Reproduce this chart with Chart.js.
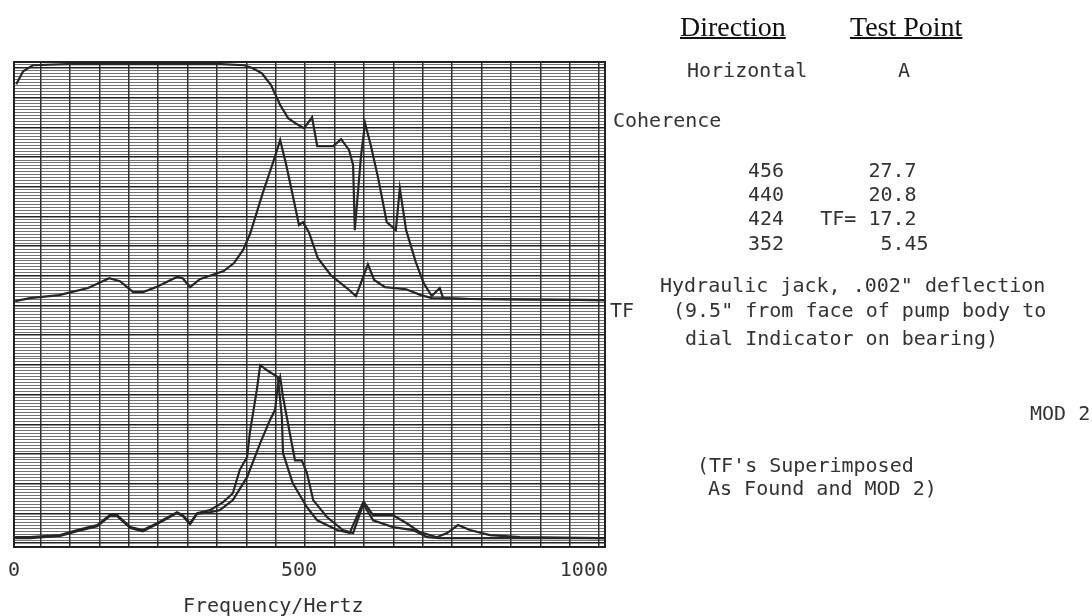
<!DOCTYPE html>
<html>
<head>
<meta charset="utf-8">
<script src="https://cdn.jsdelivr.net/npm/chart.js@4.4.1/dist/chart.umd.min.js"></script>
<style>
  html, body { margin: 0; padding: 0; background: #fff; }
  #wrap { position: relative; width: 1092px; height: 616px; overflow: hidden; }
  #wrap canvas { position: absolute; left: 0; top: 0; }
  .t { position: absolute; white-space: pre; font-family: 'DejaVu Sans Mono', monospace; font-size: 20px; line-height: 20px; color: #333; }
  .h { position: absolute; white-space: pre; font-family: 'Liberation Serif', 'Times New Roman', serif; font-size: 28px; line-height: 28px; color: #111; text-decoration: underline; text-decoration-thickness: 1.5px; }
</style>
</head>
<body>
<div id="wrap">
  <canvas id="plot" width="1092" height="616"></canvas>
</div>
<script>
// frequency (Hz) and trace height (chart divisions, no printed scale)
const cohHz  = [4, 16, 33, 93, 239, 363, 404, 419, 435, 451, 467, 481, 496, 509, 523, 532, 560, 574, 588, 595, 598, 609, 616, 626, 639, 654, 670, 677, 688, 705, 719, 733, 747, 753, 800, 1037];
const cohVal = [15.45, 15.89, 16.09, 16.13, 16.13, 16.13, 16.09, 15.99, 15.82, 15.42, 14.75, 14.31, 14.11, 13.97, 14.34, 13.37, 13.37, 13.6, 13.23, 12.73, 10.54, 13.06, 14.14, 13.4, 12.29, 10.81, 10.54, 11.95, 10.54, 9.46, 8.75, 8.32, 8.59, 8.25, 8.22, 8.18];

const tfHz  = [2, 28, 79, 130, 167, 186, 209, 226, 249, 286, 296, 309, 326, 346, 368, 386, 402, 414, 437, 456, 467, 477, 489, 500, 507, 518, 533, 556, 584, 600, 621, 632, 651, 688, 714, 733, 800, 1037];
const tfVal = [8.15, 8.25, 8.35, 8.59, 8.92, 8.82, 8.45, 8.45, 8.62, 8.96, 8.92, 8.62, 8.89, 9.02, 9.16, 9.43, 9.87, 10.4, 11.82, 12.9, 13.57, 12.79, 11.72, 10.71, 10.81, 10.44, 9.6, 9.02, 8.59, 8.32, 9.39, 8.86, 8.62, 8.55, 8.35, 8.25, 8.22, 8.18];

const foundHz  = [2, 28, 81, 111, 146, 168, 181, 204, 226, 251, 286, 296, 309, 321, 344, 361, 384, 409, 432, 449, 458, 463, 467, 472, 484, 493, 505, 514, 525, 549, 577, 595, 614, 630, 665, 689, 712, 742, 760, 779, 800, 835, 888, 1037];
const foundVal = [0.17, 0.17, 0.24, 0.4, 0.57, 0.91, 0.91, 0.51, 0.4, 0.64, 1.01, 0.91, 0.64, 0.98, 1.04, 1.11, 1.45, 2.22, 3.37, 4.14, 4.48, 5.32, 5.59, 4.92, 3.7, 2.79, 2.79, 2.36, 1.45, 0.88, 0.44, 0.34, 1.38, 0.94, 0.94, 0.67, 0.37, 0.2, 0.34, 0.61, 0.44, 0.27, 0.2, 0.17];

const mod2Hz  = [2, 28, 81, 111, 146, 168, 181, 204, 226, 251, 286, 296, 309, 321, 344, 367, 384, 396, 409, 414, 426, 432, 444, 463, 470, 472, 489, 514, 532, 567, 589, 612, 630, 665, 700, 725, 747, 853, 1037];
const mod2Val = [0.2, 0.2, 0.27, 0.44, 0.61, 0.94, 0.94, 0.54, 0.44, 0.67, 1.04, 0.94, 0.67, 1.01, 1.11, 1.38, 1.68, 2.46, 2.9, 3.74, 5.15, 5.99, 5.82, 5.59, 4.24, 3.03, 2.02, 1.21, 0.77, 0.44, 0.34, 1.35, 0.77, 0.54, 0.44, 0.2, 0.17, 0.17, 0.17];

const xTickLabels = [0, 500, 1000];

const notes = [
  ['h', 'Direction', 680, 36],
  ['h', 'Test Point', 850, 36],
  ['t', 'Horizontal', 687, 77],
  ['t', 'A', 898, 77],
  ['t', 'Coherence', 613, 127],
  ['t', '456       27.7', 748, 177],
  ['t', '440       20.8', 748, 201],
  ['t', '424   TF= 17.2', 748, 225],
  ['t', '352        5.45', 748, 250],
  ['t', 'Hydraulic jack, .002" deflection', 660, 292],
  ['t', 'TF', 610, 317],
  ['t', '(9.5" from face of pump body to', 673, 317],
  ['t', 'dial Indicator on bearing)', 685, 345],
  ['t', 'MOD 2', 1030, 420],
  ['t', "(TF's Superimposed", 697, 472],
  ['t', 'As Found and MOD 2)', 708, 495],
  ['t', 'Frequency/Hertz', 183, 612]
];

const wrap = document.getElementById('wrap');
notes.forEach(([cls, txt, x, base]) => {
  const d = document.createElement('div');
  d.className = cls;
  d.textContent = txt;
  d.style.left = x + 'px';
  d.style.top = (base - (cls === 'h' ? 23.4 : 17)) + 'px';
  wrap.appendChild(d);
});

const pts = (hz, v) => hz.map((x, i) => ({ x: x, y: v[i] }));
const trace = (label, hz, v) => ({
  label: label,
  data: pts(hz, v),
  borderColor: '#262626',
  borderWidth: 2.2,
  pointRadius: 0,
  tension: 0,
  fill: false
});

const isMajor = v => Math.abs(v - Math.round(v)) < 0.01;

const frame = {
  id: 'frame',
  beforeDraw(chart) {
    const c = chart.ctx;
    c.save();
    c.fillStyle = '#fff';
    c.fillRect(0, 0, chart.width, chart.height);
    c.restore();
  },
  afterDatasetsDraw(chart) {
    const { left, top, right, bottom } = chart.chartArea;
    const c = chart.ctx;
    c.save();
    c.strokeStyle = '#222';
    c.lineWidth = 2;
    c.strokeRect(left, top, right - left, bottom - top);
    c.restore();
  }
};

new Chart(document.getElementById('plot'), {
  type: 'line',
  data: {
    datasets: [
      trace('Coherence', cohHz, cohVal),
      trace('TF', tfHz, tfVal),
      trace('As Found', foundHz, foundVal),
      trace('MOD 2', mod2Hz, mod2Val)
    ]
  },
  options: {
    responsive: false,
    animation: false,
    layout: { padding: { left: 14, right: 487, top: 62, bottom: 33 } },
    plugins: { legend: { display: false }, tooltip: { enabled: false } },
    scales: {
      x: {
        type: 'linear',
        min: 0,
        max: 1037,
        grid: { display: false, drawTicks: false },
        border: { display: false },
        afterBuildTicks: s => { s.ticks = xTickLabels.map(v => ({ value: v })); },
        afterFit: s => { s.height = 36; s.paddingLeft = 0; s.paddingRight = 0; },
        ticks: {
          autoSkip: false,
          maxRotation: 0,
          padding: 12,
          color: '#333',
          font: { family: 'DejaVu Sans Mono', size: 20 },
          callback: v => String(v)
        }
      },
      xg: {
        type: 'linear',
        position: 'top',
        min: 0.095,
        max: 20.2,
        ticks: { display: false, stepSize: 1, includeBounds: false },
        grid: { color: '#2e2e2e', lineWidth: 1.5, drawTicks: false },
        border: { display: false },
        afterFit: s => { s.height = 0; }
      },
      y: {
        min: -0.13,
        max: 16.2,
        ticks: { display: false, stepSize: 0.1 },
        grid: {
          drawTicks: false,
          color: c => isMajor(c.tick.value) ? '#222' : 'rgba(60,60,60,0.72)',
          lineWidth: c => isMajor(c.tick.value) ? 1.6 : 1
        },
        border: { display: false },
        afterFit: s => { s.width = 0; }
      }
    }
  },
  plugins: [frame]
});
</script>
</body>
</html>
